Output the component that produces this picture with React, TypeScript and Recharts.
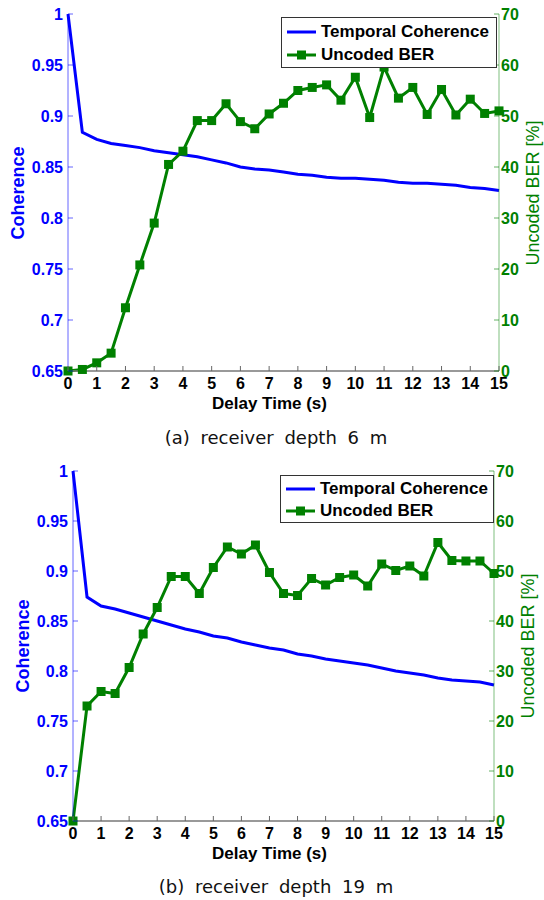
import { ComposedChart, Legend, Line, XAxis, YAxis } from "recharts";

const TIME = [0, 0.5, 1, 1.5, 2, 2.5, 3, 3.5, 4, 4.5, 5, 5.5, 6, 6.5, 7, 7.5, 8, 8.5, 9, 9.5, 10, 10.5, 11, 11.5, 12, 12.5, 13, 13.5, 14, 14.5, 15];

// receiver depth 6 m
const COH_6M = [1.0, 0.884, 0.877, 0.873, 0.871, 0.869, 0.866, 0.864, 0.862, 0.86, 0.857, 0.854, 0.85, 0.848, 0.847, 0.845, 0.843, 0.842, 0.84, 0.839, 0.839, 0.838, 0.837, 0.835, 0.834, 0.834, 0.833, 0.832, 0.83, 0.829, 0.827];
const BER_6M = [0, 0.3, 1.6, 3.5, 12.4, 20.8, 29.0, 40.5, 43.1, 49.1, 49.1, 52.4, 48.9, 47.5, 50.4, 52.5, 55.0, 55.6, 56.1, 53.1, 57.6, 49.7, 59.6, 53.5, 55.6, 50.3, 55.2, 50.2, 53.3, 50.5, 51.0];

// receiver depth 19 m
const COH_19M = [1.0, 0.874, 0.865, 0.862, 0.858, 0.854, 0.85, 0.846, 0.842, 0.839, 0.835, 0.833, 0.829, 0.826, 0.823, 0.821, 0.817, 0.815, 0.812, 0.81, 0.808, 0.806, 0.803, 0.8, 0.798, 0.796, 0.793, 0.791, 0.79, 0.789, 0.786];
const BER_19M = [0, 23.0, 25.9, 25.5, 30.7, 37.4, 42.7, 48.9, 48.9, 45.5, 50.7, 54.8, 53.4, 55.2, 49.7, 45.5, 45.1, 48.5, 47.2, 48.7, 49.2, 47.0, 51.4, 50.1, 51.0, 49.0, 55.7, 52.1, 52.0, 52.0, 49.5];

const TIME_TICKS = [0, 1, 2, 3, 4, 5, 6, 7, 8, 9, 10, 11, 12, 13, 14, 15];
const COH_TICKS = [0.65, 0.7, 0.75, 0.8, 0.85, 0.9, 0.95, 1];
const BER_TICKS = [0, 10, 20, 30, 40, 50, 60, 70];

const BLUE = "#0000ff";
const GREEN = "#008000";
const FONT = "'Liberation Sans', Arial, Helvetica, sans-serif";

function BottomTick({ x, y, payload }: any) {
  return (
    <g>
      <line x1={x} x2={x} y1={y} y2={y - 5} stroke="#666" />
      <text x={x} y={y + 18} textAnchor="middle" fontFamily={FONT} fontWeight="bold" fontSize={16} fill="#000">
        {payload.value}
      </text>
    </g>
  );
}

function TopTick({ x, y }: any) {
  return <line x1={x} x2={x} y1={y} y2={y + 5} stroke="#666" />;
}

function LeftTick({ x, y, payload }: any) {
  return (
    <g>
      <line x1={x} x2={x + 5} y1={y} y2={y} stroke={BLUE} strokeOpacity={0.6} />
      <text x={x - 5} y={y + 6} textAnchor="end" fontFamily={FONT} fontWeight="bold" fontSize={16} fill={BLUE}>
        {payload.value}
      </text>
    </g>
  );
}

function RightTick({ x, y, payload }: any) {
  return (
    <g>
      <line x1={x} x2={x - 5} y1={y} y2={y} stroke={GREEN} strokeOpacity={0.6} />
      <text x={x + 2} y={y + 6} textAnchor="start" fontFamily={FONT} fontWeight="bold" fontSize={16} fill={GREEN}>
        {payload.value}
      </text>
    </g>
  );
}

function SquareDot({ cx, cy, index }: any) {
  return <rect key={index} x={cx - 4.5} y={cy - 4.5} width={9} height={9} fill={GREEN} />;
}

function LegendBox({ width, height }: { width: number; height: number }) {
  const row = { display: "flex", alignItems: "center", height: height / 2 - 2 } as const;
  const text = { fontFamily: FONT, fontWeight: "bold", fontSize: 17, color: "#000", marginLeft: 5 } as const;
  return (
    <div
      style={{
        width,
        height,
        boxSizing: "border-box",
        border: "1px solid #333",
        background: "#fff",
        padding: "2px 0 0 5px",
      }}
    >
      <div style={row}>
        <svg width={29} height={10}>
          <line x1={0} x2={29} y1={5} y2={5} stroke={BLUE} strokeWidth={3} />
        </svg>
        <span style={text}>Temporal Coherence</span>
      </div>
      <div style={row}>
        <svg width={29} height={10}>
          <line x1={0} x2={29} y1={5} y2={5} stroke={GREEN} strokeWidth={3} />
          <rect x={10} y={0.5} width={9} height={9} fill={GREEN} />
        </svg>
        <span style={text}>Uncoded BER</span>
      </div>
    </div>
  );
}

interface PanelProps {
  top: number;
  coh: number[];
  ber: number[];
  caption: string;
  plotLeft: number;
  plotRight: number;
  plotTop: number;
  plotBottom: number;
  legend: { left: number; top: number; width: number; height: number };
  captionY: number;
}

function DepthPanel({ top, coh, ber, caption, plotLeft, plotRight, plotTop, plotBottom, legend, captionY }: PanelProps) {
  const rows = TIME.map((t, i) => ({ t, coh: coh[i], ber: ber[i] }));
  const chartHeight = 445;
  const axisW = 40;
  const xAxisH = 30;
  const midY = (plotTop + plotBottom) / 2;
  const midX = (plotLeft + plotRight) / 2;

  return (
    <div style={{ position: "absolute", left: 0, top, width: 544, height: chartHeight }}>
      <ComposedChart
        width={544}
        height={chartHeight}
        data={rows}
        margin={{
          top: plotTop,
          left: plotLeft - axisW,
          right: 544 - plotRight - axisW,
          bottom: chartHeight - plotBottom - xAxisH,
        }}
      >
        <XAxis
          xAxisId="t"
          dataKey="t"
          type="number"
          domain={[0, 15]}
          ticks={TIME_TICKS}
          height={xAxisH}
          tickSize={0}
          tickMargin={0}
          tickLine={false}
          axisLine={{ stroke: "#777", strokeWidth: 1.5 }}
          tick={<BottomTick />}
          interval={0}
        />
        <XAxis
          xAxisId="top"
          dataKey="t"
          type="number"
          orientation="top"
          domain={[0, 15]}
          ticks={TIME_TICKS}
          height={0}
          tickSize={0}
          tickMargin={0}
          tickLine={false}
          axisLine={{ stroke: "#999" }}
          tick={<TopTick />}
          interval={0}
        />
        <YAxis
          yAxisId="coh"
          orientation="left"
          domain={[0.65, 1]}
          ticks={COH_TICKS}
          width={axisW}
          tickSize={0}
          tickMargin={0}
          tickLine={false}
          axisLine={{ stroke: BLUE, strokeOpacity: 0.6 }}
          tick={<LeftTick />}
          interval={0}
        />
        <YAxis
          yAxisId="ber"
          orientation="right"
          domain={[0, 70]}
          ticks={BER_TICKS}
          width={axisW}
          tickSize={0}
          tickMargin={0}
          tickLine={false}
          axisLine={{ stroke: GREEN, strokeOpacity: 0.5 }}
          tick={<RightTick />}
          interval={0}
        />
        <Legend
          layout="vertical"
          align="center"
          verticalAlign="middle"
          wrapperStyle={{ left: legend.left, top: legend.top, width: legend.width }}
          content={() => <LegendBox width={legend.width} height={legend.height} />}
        />
        <Line
          xAxisId="t"
          yAxisId="coh"
          dataKey="coh"
          type="linear"
          stroke={BLUE}
          strokeWidth={3}
          dot={false}
          isAnimationActive={false}
        />
        <Line
          xAxisId="t"
          yAxisId="ber"
          dataKey="ber"
          type="linear"
          stroke={GREEN}
          strokeWidth={3}
          dot={<SquareDot />}
          isAnimationActive={false}
        />
      </ComposedChart>

      <div
        style={{
          position: "absolute",
          left: midX - 14,
          top: plotBottom + 39,
          transform: "translate(-50%, -80%)",
          fontFamily: FONT,
          fontWeight: "bold",
          fontSize: 17,
          whiteSpace: "nowrap",
        }}
      >
        Delay Time (s)
      </div>
      <div
        style={{
          position: "absolute",
          left: plotLeft - 50,
          top: midY,
          transform: "translate(-50%, -50%) rotate(-90deg)",
          fontFamily: FONT,
          fontWeight: "bold",
          fontSize: 18,
          color: BLUE,
          whiteSpace: "nowrap",
        }}
      >
        Coherence
      </div>
      <div
        style={{
          position: "absolute",
          left: plotRight + 34,
          top: midY,
          transform: "translate(-50%, -50%) rotate(-90deg)",
          fontFamily: FONT,
          fontSize: 18,
          color: GREEN,
          whiteSpace: "pre",
        }}
      >
        Uncoded BER [%]
      </div>
      <div
        style={{
          position: "absolute",
          left: 276,
          top: captionY,
          transform: "translate(-50%, -50%)",
          fontFamily: "'DejaVu Sans', sans-serif",
          fontSize: 18,
          lineHeight: 1,
          color: "#111",
          whiteSpace: "pre",
          wordSpacing: 5,
        }}
      >
        {caption}
      </div>
    </div>
  );
}

export default function App() {
  return (
    <div style={{ position: "absolute", left: 0, top: 0, width: 544, height: 900, background: "#fff" }}>
      <DepthPanel
        top={0}
        coh={COH_6M}
        ber={BER_6M}
        caption="(a) receiver depth 6 m"
        plotLeft={68}
        plotRight={499}
        plotTop={14}
        plotBottom={371}
        legend={{ left: 281, top: 17, width: 216, height: 51 }}
        captionY={438}
      />
      <DepthPanel
        top={455}
        coh={COH_19M}
        ber={BER_19M}
        caption="(b) receiver depth 19 m"
        plotLeft={73}
        plotRight={494}
        plotTop={16}
        plotBottom={366}
        legend={{ left: 280, top: 20, width: 214, height: 48 }}
        captionY={432}
      />
    </div>
  );
}
